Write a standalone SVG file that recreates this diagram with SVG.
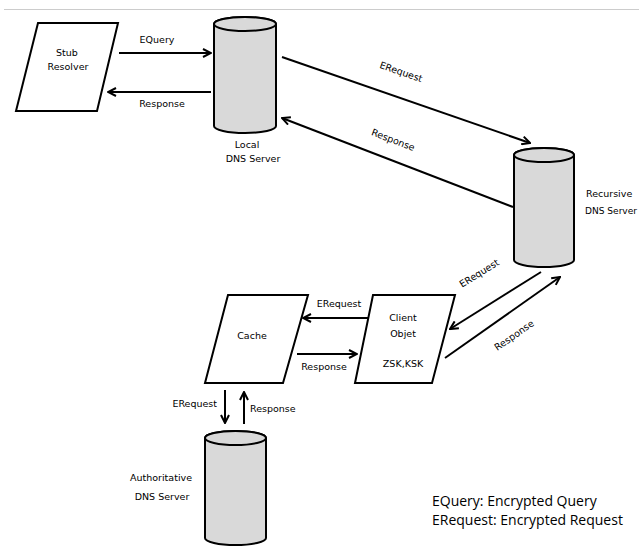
<svg xmlns="http://www.w3.org/2000/svg" width="639" height="546" viewBox="0 0 639 546">
<defs>
<marker id="ah" viewBox="0 0 10 10" refX="9" refY="5" markerWidth="10" markerHeight="10" markerUnits="userSpaceOnUse" orient="auto">
<path d="M1,1 L9,5 L1,9" fill="none" stroke="#000" stroke-width="2"/>
</marker>
<style>
.sh{fill:#fff;stroke:#000;stroke-width:2}
.cy{fill:#d9d9d9;stroke:#000;stroke-width:2}
.t{font-family:"DejaVu Sans",sans-serif;font-size:9.5px;fill:#000;text-anchor:middle}
.ts{font-family:"DejaVu Sans",sans-serif;font-size:9.5px;fill:#000}
.lg{font-family:"Open Sans","Liberation Sans",sans-serif;font-size:14px;fill:#000}
.c line{stroke:#000;stroke-width:2;marker-end:url(#ah)}
</style>
</defs>
<rect width="639" height="546" fill="#fff"/>
<line x1="4" y1="9.5" x2="639" y2="9.5" stroke="#cccccc" stroke-width="1"/>

<g id="stub">
<polygon class="sh" points="38,23 118,23 97,111 16,111"/>
<text class="t" x="67" y="56">Stub</text>
<text class="t" x="68" y="70">Resolver</text>
</g>

<g id="local">
<path class="cy" d="M214,24 A31,7 0 0 1 276,24 L276,126 A31,7 0 0 1 214,126 Z"/>
<ellipse class="cy" cx="245" cy="24" rx="31" ry="7"/>
<text class="t" x="247" y="148">Local</text>
<text class="t" x="253" y="162">DNS  Server</text>
</g>

<g id="recursive">
<path class="cy" d="M514,155 A30,7 0 0 1 574,155 L574,260 A30,7 0 0 1 514,260 Z"/>
<ellipse class="cy" cx="544" cy="155" rx="30" ry="7"/>
<text class="ts" x="586" y="197">Recursive</text>
<text class="ts" x="585" y="214" textLength="52" lengthAdjust="spacingAndGlyphs">DNS Server</text>
</g>

<g id="cache">
<polygon class="sh" points="228,295 308,295 283,383 205,383"/>
<text class="t" x="252" y="339">Cache</text>
</g>

<g id="client">
<polygon class="sh" points="373,295 455,295 432,383 355,383"/>
<text class="t" x="403" y="321">Client</text>
<text class="t" x="403" y="337">Objet</text>
<text class="t" x="403" y="367">ZSK,KSK</text>
</g>

<g id="authoritative">
<path class="cy" d="M205,438 A30.5,7 0 0 1 266,438 L266,538 A30.5,7 0 0 1 205,538 Z"/>
<ellipse class="cy" cx="235.5" cy="438" rx="30.5" ry="7"/>
<text class="t" x="161" y="481">Authoritative</text>
<text class="t" x="162" y="500">DNS Server</text>
</g>

<g id="connectors" class="c">
<line x1="119" y1="53" x2="211" y2="53"/>
<line x1="211" y1="92" x2="108" y2="92"/>
<line x1="282" y1="57" x2="530" y2="143"/>
<line x1="513" y1="207" x2="282" y2="118"/>
<line x1="541" y1="272" x2="450" y2="329"/>
<line x1="445" y1="358" x2="560" y2="277"/>
<line x1="368" y1="318" x2="303" y2="318"/>
<line x1="297" y1="354" x2="357" y2="354"/>
<line x1="225" y1="390" x2="225" y2="423"/>
<line x1="244" y1="424" x2="244" y2="392"/>
</g>

<g id="labels">
<text class="t" x="157" y="43">EQuery</text>
<text class="t" x="162" y="107">Response</text>
<text class="t" transform="translate(400,75) rotate(19)">ERequest</text>
<text class="t" transform="translate(392,143) rotate(21)">Response</text>
<text class="t" transform="translate(481,276) rotate(-32)">ERequest</text>
<text class="t" transform="translate(516,338) rotate(-35)">Response</text>
<text class="t" x="339" y="307">ERequest</text>
<text class="t" x="324" y="370">Response</text>
<text class="ts" x="217" y="407" text-anchor="end">ERequest</text>
<text class="ts" x="250" y="412">Response</text>
</g>

<g id="legend">
<text class="lg" x="432" y="506">EQuery: Encrypted Query</text>
<text class="lg" x="432" y="525">ERequest: Encrypted Request</text>
</g>
</svg>
